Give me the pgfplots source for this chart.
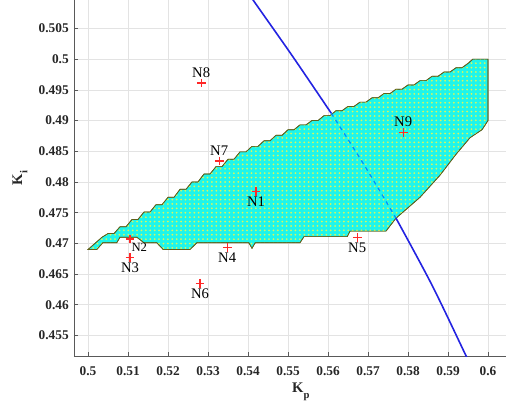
\documentclass[border=0pt]{standalone}
\usepackage{fontspec}
\setmainfont{Liberation Serif}
\usepackage{pgfplots}
\pgfplotsset{compat=1.18}
\usetikzlibrary{patterns}
\pgfdeclarepatternformonly{ydots}{\pgfpoint{-1pt}{-1pt}}{\pgfpoint{2.3pt}{2.3pt}}{\pgfpoint{3.3pt}{3.3pt}}{\pgfpathcircle{\pgfpoint{0.5pt}{0.5pt}}{0.75pt}\pgfusepath{fill}}
\definecolor{regfill}{RGB}{30,245,235}
\definecolor{regdot}{RGB}{220,245,90}
\definecolor{regedge}{RGB}{95,95,25}
\definecolor{curve}{RGB}{35,35,225}
\definecolor{mk}{RGB}{255,40,40}
\begin{document}
\begin{tikzpicture}
\begin{axis}[
  at={(0,0)}, anchor=south west,
  width=324pt, height=267pt, scale only axis,
  xmin=0.4965, xmax=0.6045, ymin=0.45166, ymax=0.50963,
  axis x line*=bottom, axis y line*=left,
  axis line style={black!65, line width=0.6pt},
  xtick={0.5,0.51,0.52,0.53,0.54,0.55,0.56,0.57,0.58,0.59,0.6},
  xticklabels={0.5,0.51,0.52,0.53,0.54,0.55,0.56,0.57,0.58,0.59,0.6},
  ytick={0.455,0.46,0.465,0.47,0.475,0.48,0.485,0.49,0.495,0.5,0.505},
  yticklabels={0.455,0.46,0.465,0.47,0.475,0.48,0.485,0.49,0.495,0.5,0.505},
  tick align=inside, major tick length=3pt,
  tick style={black!65, line width=0.5pt},
  grid=major, grid style={gray!22, line width=0.5pt},
  ticklabel style={font=\fontsize{10}{12}\selectfont\bfseries, text=black!85},
  xticklabel style={anchor=north, inner sep=0pt, yshift=-8pt},
  yticklabel style={anchor=east, inner sep=0pt, xshift=-3.75pt},
  xlabel={\textbf{K\raisebox{-0.35em}{\footnotesize p}}},
  ylabel={\textbf{K\raisebox{-0.35em}{\footnotesize i}}},
  label style={font=\fontsize{11}{13}\selectfont, text=black!85},
  xlabel style={at={(rel axis cs:0.525,-0.1039)}, anchor=base},
  ylabel style={at={(rel axis cs:-0.1200,0.5)}, anchor=base},
]
% stable region
\addplot[draw=regedge, line width=0.5pt, fill=regfill, postaction={pattern=ydots, pattern color=regdot}] coordinates {
(0.5000,0.4690) (0.5035,0.4710)
(0.5050,0.4716) (0.5065,0.4716) (0.5080,0.4727) (0.5095,0.4727)
(0.5110,0.4739) (0.5125,0.4739) (0.5140,0.4751) (0.5155,0.4751)
(0.5170,0.4763) (0.5185,0.4763) (0.5200,0.4775) (0.5215,0.4775)
(0.5230,0.4788) (0.5245,0.4788) (0.5260,0.4800) (0.5275,0.4800)
(0.5290,0.4813) (0.5305,0.4813) (0.5320,0.4825) (0.5335,0.4825)
(0.5350,0.4837) (0.5365,0.4837) (0.5380,0.4849) (0.5395,0.4849)
(0.5410,0.4858) (0.5425,0.4858) (0.5440,0.4867) (0.5455,0.4867)
(0.5470,0.4876) (0.5485,0.4876) (0.5500,0.4885) (0.5515,0.4885)
(0.5530,0.4893) (0.5545,0.4893) (0.5560,0.4900) (0.5575,0.4900)
(0.5590,0.4908) (0.5605,0.4908) (0.5620,0.4916) (0.5635,0.4916)
(0.5650,0.4923) (0.5665,0.4923) (0.5680,0.4930) (0.5695,0.4930)
(0.5710,0.4937) (0.5725,0.4937) (0.5740,0.4944) (0.5755,0.4944)
(0.5770,0.4951) (0.5785,0.4951) (0.5800,0.4958) (0.5815,0.4958)
(0.5830,0.4965) (0.5845,0.4965) (0.5860,0.4972) (0.5875,0.4972)
(0.5890,0.4979) (0.5905,0.4979) (0.5920,0.4986) (0.5935,0.4986)
(0.5950,0.4993) (0.5962,0.5000) (0.6000,0.5000)
(0.6000,0.4900) (0.5985,0.4885) (0.5955,0.4872) (0.5920,0.4845)
(0.5880,0.4811) (0.5830,0.4775) (0.5770,0.4741) (0.5745,0.4720)
(0.5655,0.4720) (0.5648,0.4711) (0.5540,0.4711) (0.5530,0.4701)
(0.5418,0.4701) (0.5410,0.4692) (0.5402,0.4701) (0.5272,0.4701)
(0.5255,0.4690) (0.5188,0.4690) (0.5172,0.4701) (0.5140,0.4701)
(0.5122,0.4710) (0.5080,0.4710) (0.5072,0.4701) (0.5037,0.4701)
(0.5022,0.4690) (0.5000,0.4690)
} -- cycle;
% boundary curve
\addplot[curve, line width=1.2pt, smooth] coordinates {
(0.5380,0.5128) (0.5413,0.5096) (0.5510,0.5006) (0.5608,0.4912)
};
\addplot[blue!45!cyan, line width=0.9pt, dashed, smooth] coordinates {
(0.5608,0.4912) (0.5690,0.4828) (0.5770,0.4741)
};
\addplot[curve, line width=1.2pt, smooth] coordinates {
(0.5770,0.4741) (0.5860,0.4632) (0.5945,0.4517) (0.5965,0.4490)
};
% operating points
\addplot[only marks, mark=+, mark size=3.3pt, draw=mk, mark options={line width=0.9pt, draw=mk, solid}] coordinates {
(0.5420,0.4784) (0.5105,0.4707) (0.5105,0.4677) (0.5348,0.4693)
(0.5673,0.4710) (0.5280,0.4635) (0.5328,0.4834) (0.5283,0.4961)
(0.5788,0.4880)
};
\begin{scope}[every node/.style={font=\fontsize{11}{13}\selectfont, text=black, inner sep=0pt}]
\node[anchor=base, yshift=4pt] at (axis cs:0.5283,0.4961) {N8};
\node[anchor=base, yshift=4.5pt] at (axis cs:0.5328,0.4834) {N7};
\node[anchor=base, yshift=4.5pt] at (axis cs:0.5788,0.4880) {N9};
\node[anchor=north, yshift=-3.8pt] at (axis cs:0.5420,0.4784) {N1};
\node[anchor=north, yshift=-4pt] at (axis cs:0.5105,0.4677) {N3};
\node[anchor=north, yshift=-3.6pt] at (axis cs:0.5348,0.4693) {N4};
\node[anchor=north, yshift=-4pt] at (axis cs:0.5673,0.4710) {N5};
\node[anchor=north, yshift=-3.8pt] at (axis cs:0.5280,0.4635) {N6};
\node[anchor=north west, xshift=1pt, yshift=-3pt, font=\fontsize{9.5}{11}\selectfont] at (axis cs:0.5105,0.4707) {N2};
\end{scope}
\end{axis}
\pgfresetboundingbox
\path[use as bounding box] (-55.5pt,-38.25pt) rectangle (324pt,267pt);
\end{tikzpicture}
\end{document}
